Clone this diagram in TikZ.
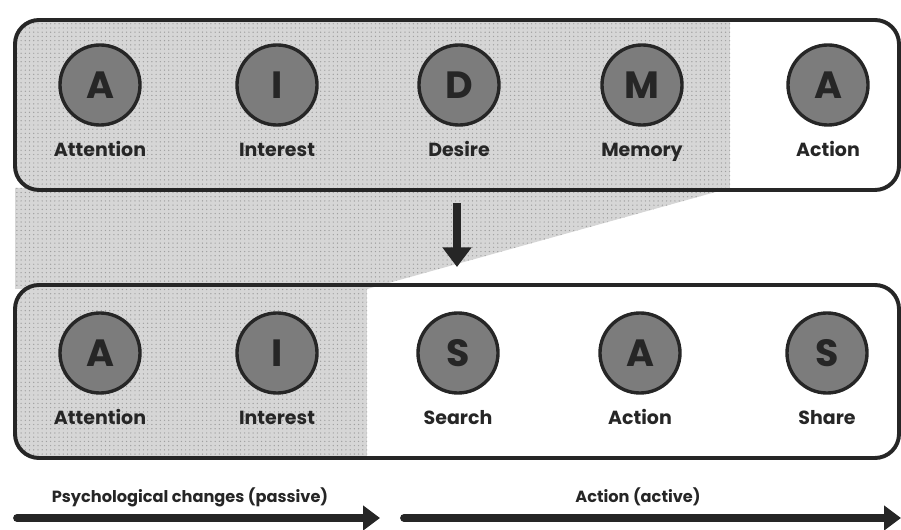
\documentclass[tikz,border=0pt]{standalone}
\usepackage{fontspec}
\setmainfont{Poppins}
\usetikzlibrary{arrows.meta,patterns}

\definecolor{dotgray}{HTML}{D6D6D6}
\definecolor{ringgray}{HTML}{7C7C7C}
\definecolor{inkgray}{HTML}{262626}

\tikzset{
  stagebox/.style={draw=inkgray, line width=2.8pt, rounded corners=0.6cm},
  dotted area/.style={fill=dotgray, postaction={pattern=dots, pattern color=gray!75}},
  letter/.style={circle, draw=inkgray, line width=2.4pt, fill=ringgray,
    minimum size=2cm, inner sep=0pt, text=inkgray,
    font=\fontsize{27}{27}\selectfont\bfseries},
  caption/.style={anchor=base, text=inkgray, font=\fontsize{13.5}{14}\selectfont\bfseries},
  phase/.style={anchor=base, text=inkgray, font=\fontsize{11.5}{12}\selectfont\bfseries},
  bigarrow/.style={draw=inkgray, line width=5.5pt, line cap=round,
    -{Triangle[width=17pt,length=12pt]}}
}

\begin{document}
\begin{tikzpicture}[x=0.025cm,y=-0.025cm]
   \useasboundingbox (0,0) rectangle (901,530);

   % dotted area: passive part of both models
   \path[dotted area] (15,188) -- (730,188) -- (367,289) -- (15,289) -- cycle;
   \begin{scope}
     \clip[rounded corners=0.6cm] (15,20) rectangle (899,190);
     \path[dotted area] (0,0) rectangle (730,200);
   \end{scope}
   \begin{scope}
     \clip[rounded corners=0.6cm] (15,285) rectangle (899,458);
     \path[dotted area] (0,280) rectangle (367,470);
   \end{scope}

   \draw[stagebox] (15,20) rectangle (899,190);
   \draw[stagebox] (15,285) rectangle (899,458);

   % AIDMA
   \foreach \x/\l/\t [count=\i] in {100/A/Attention, 277/I/Interest,
       459/D/Desire, 642/M/Memory, 828/A/Action}{
     \node[letter] (aidma\i) at (\x,85) {\l};
     \node[caption] (aidmatext\i) at (\x,157) {\t};
   }

   % AISAS
   \foreach \x/\l/\t [count=\i] in {100/A/Attention, 277/I/Interest,
       458/S/Search, 640/A/Action, 827/S/Share}{
     \node[letter] (aisas\i) at (\x,353) {\l};
     \node[caption] (aisastext\i) at (\x,425) {\t};
   }

   \coordinate (downtop) at (457,203);
   \coordinate (downtip) at (457,267);
   \draw[bigarrow, line cap=butt, -{Triangle[width=20pt,length=14pt]}] (downtop) -- (downtip);

   % phases
   \coordinate (passfrom) at (17,518);
   \coordinate (passto) at (380,518);
   \coordinate (actfrom) at (404,518);
   \coordinate (actto) at (901,518);
   \draw[bigarrow] (passfrom) -- (passto);
   \draw[bigarrow] (actfrom) -- (actto);
   \node[phase] (passive) at (190,502) {Psychological changes (passive)};
   \node[phase] (active) at (638,502) {Action (active)};
\end{tikzpicture}
\end{document}
